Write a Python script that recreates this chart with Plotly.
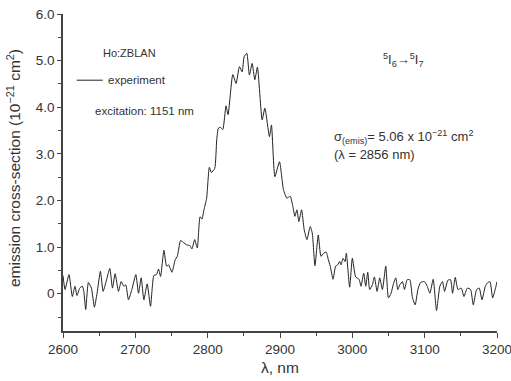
import plotly.graph_objects as go

wavelength = [
    2600.0, 2602.8, 2608.3, 2612.9, 2616.6, 2619.4, 2623.1, 2626.8, 2628.8, 2631.4,
    2635.1, 2639.3, 2643.4, 2647.1, 2651.7, 2655.4, 2659.1, 2664.7, 2668.4, 2672.1,
    2676.7, 2680.4, 2684.1, 2686.8, 2690.5, 2695.2, 2700.7, 2704.4, 2708.1, 2711.8,
    2716.4, 2721.0, 2725.6, 2729.3, 2732.1, 2734.9, 2739.5, 2743.2, 2746.0, 2750.6,
    2755.2, 2758.0, 2762.6, 2767.2, 2770.9, 2775.5, 2778.3, 2782.0, 2785.7, 2789.4,
    2792.1, 2794.9, 2798.6, 2802.3, 2805.1, 2809.8, 2812.5, 2814.8, 2817.5, 2820.9,
    2825.4, 2828.2, 2834.7, 2839.3, 2843.9, 2847.6, 2850.4, 2854.1, 2857.7, 2861.5,
    2865.2, 2868.8, 2875.3, 2879.1, 2885.4, 2888.2, 2892.9, 2899.3, 2904.8, 2909.5,
    2914.1, 2917.8, 2920.6, 2923.4, 2926.1, 2929.8, 2933.5, 2937.2, 2941.8, 2944.6,
    2948.3, 2952.9, 2956.6, 2960.3, 2964.0, 2966.8, 2969.5, 2973.3, 2976.9, 2979.7,
    2982.5, 2984.3, 2987.1, 2989.9, 2991.7, 2996.3, 3000.0, 3004.6, 3009.3, 3012.0,
    3015.7, 3018.5, 3021.3, 3024.0, 3027.7, 3030.5, 3034.2, 3037.9, 3041.6, 3046.2,
    3049.9, 3053.6, 3056.4, 3060.1, 3062.8, 3065.6, 3069.3, 3072.1, 3075.8, 3079.5,
    3083.2, 3086.9, 3090.6, 3094.3, 3099.8, 3103.5, 3107.2, 3111.8, 3116.4, 3121.0,
    3124.7, 3127.5, 3132.1, 3135.8, 3138.6, 3142.3, 3146.0, 3150.6, 3154.3, 3158.9,
    3163.5, 3167.2, 3171.8, 3175.5, 3179.2, 3183.9, 3186.6, 3190.3, 3194.0, 3198.6,
    3200.0,
]
cross_section = [
    0.39, 0.09, 0.41, -0.06, 0.16, -0.04, 0.12, 0.16, 0.05, -0.34,
    0.24, 0.12, -0.29, 0.01, 0.48, 0.05, 0.23, 0.54, 0.12, 0.43,
    0.05, 0.26, 0.16, 0.19, -0.13, 0.09, 0.41, 0.01, 0.34, -0.13,
    0.21, -0.27, 0.39, 0.41, 0.53, 0.37, 0.93, 0.59, 0.62, 0.46,
    0.73, 0.80, 1.14, 1.09, 1.05, 1.03, 0.96, 1.16, 0.98, 1.65,
    1.60, 1.80, 2.05, 2.71, 2.60, 2.69, 3.30, 3.55, 3.57, 3.52,
    4.03, 3.84, 4.70, 4.51, 4.87, 4.76, 5.08, 5.16, 4.69, 4.94,
    4.59, 4.86, 3.73, 3.98, 3.37, 3.62, 2.51, 2.83, 2.23, 2.05,
    2.09, 1.87, 1.66, 1.80, 1.55, 1.80, 1.37, 1.16, 1.44, 1.30,
    0.60, 1.26, 0.80, 0.87, 0.89, 0.73, 0.59, 0.31, 0.59, 0.62,
    0.69, 0.62, 0.76, 0.69, 0.87, 0.14, 0.76, 0.36, 0.31, 0.16,
    0.44, 0.16, 0.46, 0.09, 0.19, 0.36, 0.05, 0.34, 0.09, 0.59,
    -0.09, 0.01, 0.19, 0.34, 0.09, 0.19, 0.26, 0.09, 0.30, 0.30,
    -0.09, -0.24, 0.09, 0.24, 0.26, 0.16, 0.01, 0.31, -0.36, 0.16,
    0.26, 0.05, 0.29, 0.30, 0.01, 0.35, 0.09, 0.12, -0.06, 0.12,
    0.09, -0.24, 0.09, 0.12, -0.13, 0.16, 0.23, 0.26, -0.09, 0.16,
    0.26,
]

x_ticks = [2600, 2700, 2800, 2900, 3000, 3100, 3200]
x_tick_labels = ["2600", "2700", "2800", "2900", "3000", "3100", "3200"]
y_ticks = [0, 1, 2, 3, 4, 5, 6]
y_tick_labels = ["0", "1.0", "2.0", "3.0", "4.0", "5.0", "6.0"]

FONT = "Liberation Sans, Arial, Helvetica, sans-serif"
TXT = "#333333"
AX = "#444444"

fig = go.Figure()
fig.add_trace(go.Scatter(
    x=wavelength, y=cross_section, mode="lines",
    line=dict(color="#222222", width=1, shape="spline", smoothing=0.5),
    showlegend=False, hoverinfo="skip",
))

fig.update_layout(
    width=511, height=381,
    margin=dict(l=63, r=14, t=14, b=50),
    paper_bgcolor="white", plot_bgcolor="white",
    font=dict(family=FONT, color=TXT, size=12),
    showlegend=False,
)
fig.update_xaxes(
    range=[2600, 3200], showgrid=False, zeroline=False, automargin=False,
    showline=True, linecolor=AX, linewidth=1.5,
    tickmode="array", tickvals=x_ticks, ticktext=x_tick_labels,
    ticks="outside", ticklen=5, tickwidth=1.2, tickcolor=AX,
    tickfont=dict(size=13.5, color=TXT, family=FONT),
    ticklabeloverflow="allow",
    minor=dict(tickmode="array", tickvals=[2650, 2750, 2850, 2950, 3050, 3150],
               ticks="outside", ticklen=3, tickwidth=1.2, tickcolor=AX, showgrid=False),
)
fig.update_yaxes(
    range=[-0.8, 6.0], showgrid=False, zeroline=False, automargin=False,
    showline=True, linecolor=AX, linewidth=1.5,
    tickmode="array", tickvals=y_ticks, ticktext=y_tick_labels,
    ticks="outside", ticklen=4, tickwidth=1.2, tickcolor=AX,
    tickfont=dict(size=13.5, color=TXT, family=FONT),
    ticklabeloverflow="allow",
    minor=dict(tickmode="array", tickvals=[-0.5, 0.5, 1.5, 2.5, 3.5, 4.5, 5.5],
               ticks="outside", ticklen=3, tickwidth=1.2, tickcolor=AX, showgrid=False),
)

# axis titles
fig.add_annotation(
    text="emission cross-section (10<sup>−21</sup> cm<sup>2</sup>)",
    xref="paper", yref="paper", x=-0.113, y=0.514, textangle=-90,
    showarrow=False, xanchor="center", yanchor="middle",
    font=dict(size=15.5, color=TXT, family=FONT),
)
fig.add_annotation(
    text="λ, nm", xref="paper", yref="paper", x=0.5, y=-0.114,
    showarrow=False, xanchor="center", yanchor="middle",
    font=dict(size=15.5, color=TXT, family=FONT),
)

# in-plot texts
fig.add_annotation(text="Ho:ZBLAN", x=2652, y=5.17, xref="x", yref="y",
                   showarrow=False, xanchor="left", yanchor="middle",
                   font=dict(size=11, color=TXT, family=FONT))
fig.add_shape(type="line", xref="x", yref="y", x0=2619, x1=2655, y0=4.58, y1=4.58,
              line=dict(color="#222222", width=1))
fig.add_annotation(text="experiment", x=2659, y=4.58, xref="x", yref="y",
                   showarrow=False, xanchor="left", yanchor="middle",
                   font=dict(size=11.5, color=TXT, family=FONT))
fig.add_annotation(text="excitation: 1151 nm", x=2641, y=3.92, xref="x", yref="y",
                   showarrow=False, xanchor="left", yanchor="middle",
                   font=dict(size=11.5, color=TXT, family=FONT))
fig.add_annotation(text="<sup>5</sup>I<sub>6</sub>→<sup>5</sup>I<sub>7</sub>",
                   x=3070.7, y=5.02, xref="x", yref="y",
                   showarrow=False, xanchor="center", yanchor="middle",
                   font=dict(size=13, color=TXT, family=FONT))
fig.add_annotation(text="σ<sub>(emis)</sub>= 5.06 x 10<sup>−21</sup> cm<sup>2</sup>",
                   x=2972.5, y=3.36, xref="x", yref="y",
                   showarrow=False, xanchor="left", yanchor="middle",
                   font=dict(size=13, color=TXT, family=FONT))
fig.add_annotation(text="(λ = 2856 nm)",
                   x=2972.5, y=2.98, xref="x", yref="y",
                   showarrow=False, xanchor="left", yanchor="middle",
                   font=dict(size=13, color=TXT, family=FONT))

fig.write_html("out.html", config={"displayModeBar": False},
               post_script="document.body.style.margin='0';")
